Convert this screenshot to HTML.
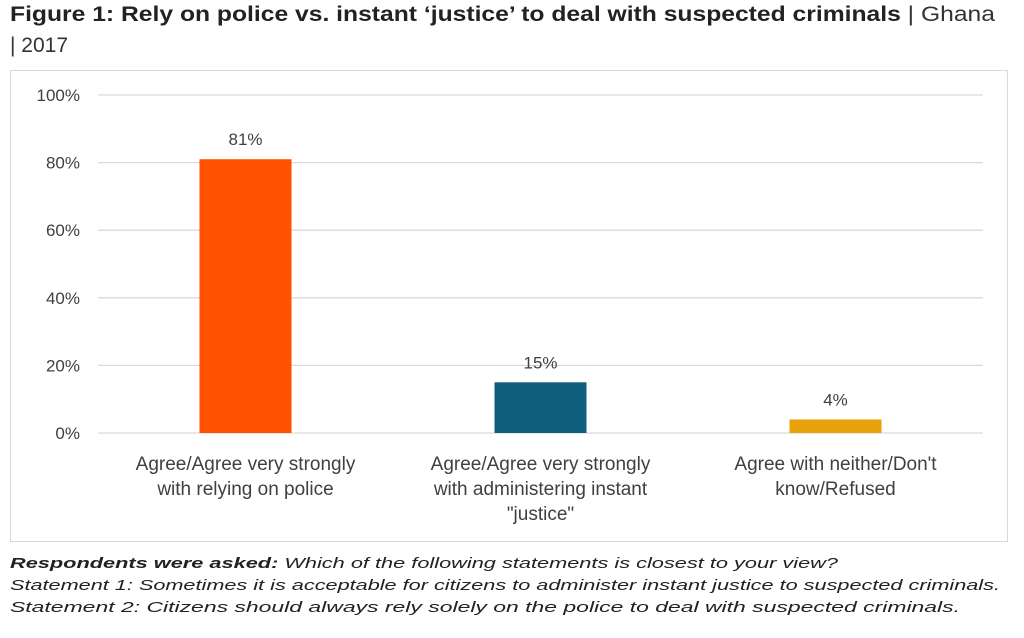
<!DOCTYPE html>
<html><head><meta charset="utf-8"><style>
body{margin:0;background:#fff}
svg{display:block;font-family:"Liberation Sans",sans-serif}
</style></head><body>
<svg id="c" width="1024" height="638" viewBox="0 0 1024 638">
<text x="10" y="21" font-size="21" font-weight="bold" fill="#222" textLength="985" lengthAdjust="spacingAndGlyphs">Figure 1: Rely on police vs. instant ‘justice’ to deal with suspected criminals <tspan font-weight="normal" fill="#333">| Ghana</tspan></text>
<text x="10" y="52" font-size="21" fill="#333">| 2017</text>
<rect x="10.5" y="70.5" width="997" height="471" fill="#fff" stroke="#d9d9d9"/>
<g id="grid"></g><g id="bars"></g>
<text x="10" y="568" font-size="15" font-style="italic" fill="#222" textLength="828" lengthAdjust="spacingAndGlyphs"><tspan font-weight="bold">Respondents were asked:</tspan> Which of the following statements is closest to your view?</text>
<text x="10" y="590" font-size="15" font-style="italic" fill="#222" textLength="990" lengthAdjust="spacingAndGlyphs">Statement 1: Sometimes it is acceptable for citizens to administer instant justice to suspected criminals.</text>
<text x="10" y="612" font-size="15" font-style="italic" fill="#222" textLength="950" lengthAdjust="spacingAndGlyphs">Statement 2: Citizens should always rely solely on the police to deal with suspected criminals.</text>
</svg>
<script>
const categories=[["Agree/Agree very strongly","with relying on police"],["Agree/Agree very strongly","with administering instant","\"justice\""],["Agree with neither/Don't","know/Refused"]];
const values=[81,15,4];
const colors=["#ff5100","#0f5f7d","#e8a20c"];
const ticks=[0,20,40,60,80,100];
const NS="http://www.w3.org/2000/svg";
const x0=98,x1=983,y0=433,y1=95;
const y=v=>y0-(v/100)*(y0-y1);
const band=(x1-x0)/categories.length;
const xc=i=>x0+band*(i+0.5);
function mk(t,a,p){const e=document.createElementNS(NS,t);for(const k in a)e.setAttribute(k,a[k]);p.appendChild(e);return e;}
const g=document.getElementById('grid'),b=document.getElementById('bars');
ticks.forEach(t=>{
 const l=mk('line',{x1:x0,x2:x1,y1:y(t),y2:y(t),stroke:'#d9d9d9','stroke-width':1.3},g);
 
 
 const tx=mk('text',{x:80,y:y(t)+6,'text-anchor':'end','font-size':17,fill:'#404040'},g);
 tx.textContent=t+'%';
 
 
});
values.forEach((v,i)=>{
 const w=92;
 const r=mk('rect',{x:xc(i)-w/2,y:y(v),width:w,height:y0-y(v),fill:colors[i]},b);
 
 
 const lb=mk('text',{x:xc(i),y:y(v)-14,'text-anchor':'middle','font-size':17,fill:'#404040'},b);
 lb.textContent=v+'%';
 
 
 categories[i].forEach((s,j)=>{
  const c=mk('text',{x:xc(i),y:470+j*25,'text-anchor':'middle','font-size':19,fill:'#404040'},b);
  c.textContent=s;
  
  
 });
});
</script>
</body></html>
